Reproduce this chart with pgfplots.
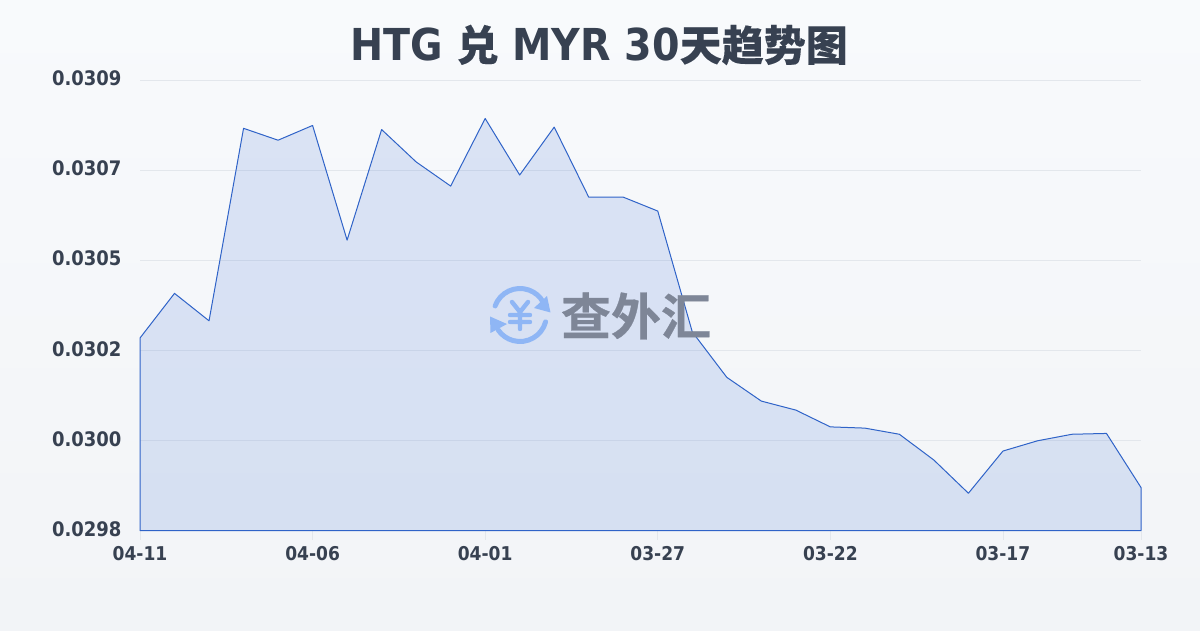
\documentclass[border=0pt]{standalone}
\usepackage{fontspec}
\setmainfont{DejaVu Sans}
\newfontfamily\lab{DejaVu Sans Condensed}[BoldFont={DejaVu Sans Condensed Bold}]
\newfontfamily\cjk{Noto Sans CJK SC}[BoldFont={* Bold}]
\newfontfamily\cjkheavy{Noto Sans CJK SC Bold}[FakeBold=0.6]
\newfontfamily\cjktitle{Noto Sans CJK SC Bold}[FakeBold=0.25]
\usepackage{pgfplots}
\pgfplotsset{compat=1.18}
\definecolor{bgtop}{HTML}{F8FAFC}
\definecolor{bgbot}{HTML}{F2F4F7}
\definecolor{txt}{HTML}{374151}
\definecolor{ln}{HTML}{2F63C8}
\definecolor{fl}{HTML}{2B62D0}
\definecolor{grd}{HTML}{E3E7EC}
\definecolor{wmb}{HTML}{8FB6F5}
\definecolor{wmg}{HTML}{7E8697}
\pgfplotstableread{
x y
0 0.030270
1 0.030379
2 0.030312
3 0.030782
4 0.030753
5 0.030789
6 0.030509
7 0.030779
8 0.030700
9 0.030641
10 0.030806
11 0.030668
12 0.030785
13 0.030614
14 0.030614
15 0.030580
16 0.030285
17 0.030174
18 0.030116
19 0.030094
20 0.030053
21 0.030050
22 0.030035
23 0.029972
24 0.029891
25 0.029994
26 0.030019
27 0.030035
28 0.030037
29 0.029905
}\datatable
\begin{document}
\begin{tikzpicture}[x=1pt,y=1pt]
\useasboundingbox (0,0) rectangle (1200,630);
\shade[top color=bgtop,bottom color=bgbot,shading angle=0] (0,0) rectangle (1200,630);
\begin{axis}[
  at={(140pt,99.5pt)},anchor=south west,
  scale only axis,width=1001pt,height=450.5pt,
  xmin=0,xmax=29,ymin=0.0298,ymax=0.0309,
  axis line style={draw=none},
  ymajorgrids,
  grid style={grd,line width=0.8pt},
  ytick={0.0298,0.03002,0.03024,0.03046,0.03068,0.0309},
  yticklabels={0.0298,0.0300,0.0302,0.0305,0.0307,0.0309},
  scaled y ticks=false,
  xtick={0,5,10,15,20,25,29},
  xticklabels={04-11,04-06,04-01,03-27,03-22,03-17,03-13},
  xtick pos=lower,
  tick align=outside,
  major tick length=9pt,
  ytick style={draw=none},
  xtick style={grd,line width=0.8pt},
  yticklabel style={font=\lab\fontsize{20}{22}\selectfont\bfseries,text=txt,xshift=-6pt,yshift=1.5pt},
  xticklabel style={font=\lab\fontsize{19}{22}\selectfont\bfseries,text=txt,yshift=-3pt},
  /pgf/number format/assume math mode=true,
  clip=false,
]
\addplot[draw=none,fill=fl,fill opacity=0.14] table[x=x,y=y]{\datatable} -- (axis cs:29,0.0298) -- (axis cs:0,0.0298) -- cycle;
\addplot[ln,line width=1pt,line join=round] table[x=x,y=y]{\datatable} -- (axis cs:29,0.0298) -- (axis cs:0,0.0298) -- cycle;
\end{axis}
\node[text=txt,font=\lab\fontsize{44}{50}\selectfont\bfseries,anchor=center] at (599,585) {HTG {\cjktitle\fontsize{42}{50}\selectfont 兑} MYR 30{\cjktitle\fontsize{42}{50}\selectfont 天趋势图}};
% watermark
\begin{scope}[shift={(520,315)},wmb]
\draw[line width=5pt,line cap=round] (160:26.5) arc (160:30:26.5);
\draw[line width=5pt,line cap=round] (-15:26.5) arc (-15:-145:26.5);
\fill (27,19) -- (30.5,2.5) -- (14,7) -- cycle;
\fill (-30,-1.5) -- (-29.5,-18) -- (-13,-9) -- cycle;
\draw[line width=4.4pt,line cap=round,line join=round] (-8,13) -- (0,3) -- (8,13) (0,3) -- (0,-14) (-10,0) -- (10,0) (-10,-7) -- (10,-7);
\end{scope}
\node[text=wmg,font=\cjkheavy\fontsize{50}{54}\selectfont,anchor=center] at (636,314) {查外汇};
\end{tikzpicture}
\end{document}
